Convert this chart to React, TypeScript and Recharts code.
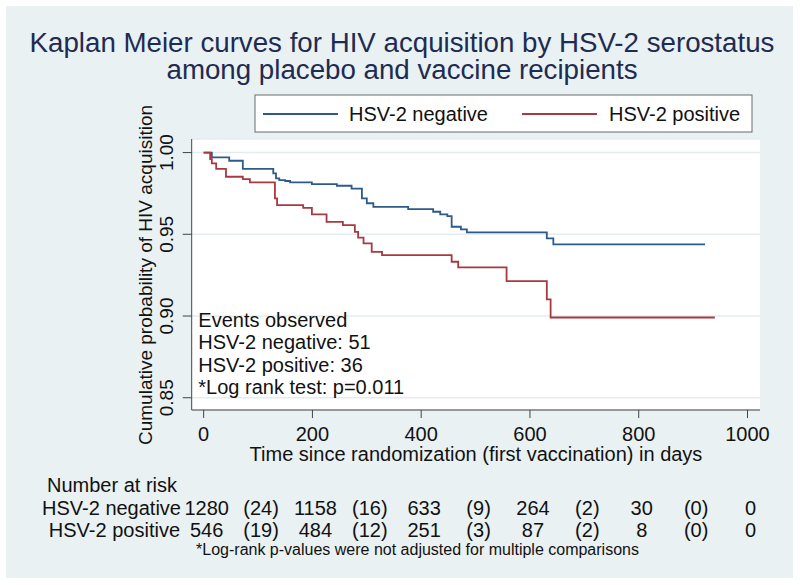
import React from 'react';
import { LineChart, Line, XAxis, YAxis, CartesianGrid, Customized } from 'recharts';

const FONT = '"Liberation Sans", Arial, Helvetica, sans-serif';

const titleLines = ['Kaplan Meier curves for HIV acquisition by HSV-2 serostatus', 'among placebo and vaccine recipients'];
const seriesNames = ['HSV-2 negative', 'HSV-2 positive'];
const seriesColors = ['#2C5B8A', '#A8393F'];
const yTitle = 'Cumulative probability of HIV acquisition';
const xTitle = 'Time since randomization (first vaccination) in days';

// Kaplan-Meier steps, HSV-2 negative
const negDays = [0, 15, 47, 72, 128, 133, 139, 150, 159, 199, 245, 272, 291, 300, 312, 376, 422, 435, 448, 456, 473, 484, 631, 643, 922];
const negSurv = [1.0, 0.997, 0.995, 0.990, 0.9873, 0.9842, 0.9832, 0.9826, 0.9818, 0.9807, 0.9797, 0.978, 0.972, 0.969, 0.9668, 0.9654, 0.9638, 0.9622, 0.9611, 0.9546, 0.953, 0.9512, 0.9475, 0.9438, 0.9438];
// Kaplan-Meier steps, HSV-2 positive
const posDays = [0, 12, 15, 23, 41, 72, 85, 131, 135, 183, 199, 226, 256, 278, 284, 294, 309, 328, 456, 468, 557, 631, 638, 940];
const posSurv = [1.0, 0.996, 0.9934, 0.990, 0.9852, 0.9838, 0.9818, 0.972, 0.9679, 0.9662, 0.9622, 0.9576, 0.9556, 0.9515, 0.948, 0.9444, 0.9393, 0.9373, 0.9332, 0.9297, 0.9214, 0.9102, 0.8991, 0.8991];

const xTickStep = 200;
const yTicks = [0.85, 0.9, 0.95, 1.0];
const riskTicks = [0, 100, 200, 300, 400, 500, 600, 700, 800, 900, 1000];
const negAtRisk = [1280, 1158, 633, 264, 30, 0];
const negEvents = [24, 16, 9, 2, 0];
const posAtRisk = [546, 484, 251, 87, 8, 0];
const posEvents = [19, 12, 3, 2, 0];

const eventsLines = ['Events observed', 'HSV-2 negative: 51', 'HSV-2 positive: 36', '*Log rank test: p=0.011'];
const riskHeader = 'Number at risk';
const footnote = '*Log-rank p-values were not adjusted for multiple comparisons';

const negData = negDays.map((t, i) => ({ t, s: negSurv[i] }));
const posData = posDays.map((t, i) => ({ t, s: posSurv[i] }));

const riskLabel = (atRisk: number[], events: number[], i: number) =>
  i % 2 === 0 ? String(atRisk[i / 2]) : `(${events[(i - 1) / 2]})`;

// One tick per 100 days: draws the axis tick + label at multiples of 200,
// and the number-at-risk table cells below, all placed by the axis scale.
const XTick = (props: any) => {
  const { x, y, payload } = props;
  const v = payload.value;
  const i = Math.round(v / 100);
  const major = v % xTickStep === 0;
  return (
    <g fontFamily={FONT} fontSize={20} fill="#111">
      {major && <line x1={x} y1={y} x2={x} y2={y + 8} stroke="#444" strokeWidth={1} />}
      {major && (
        <text x={x} y={y + 30.5} textAnchor="middle">
          {v}
        </text>
      )}
      <text x={x + 3} y={y + 105} textAnchor="middle">
        {riskLabel(negAtRisk, negEvents, i)}
      </text>
      <text x={x + 3} y={y + 127} textAnchor="middle">
        {riskLabel(posAtRisk, posEvents, i)}
      </text>
    </g>
  );
};

const YTick = (props: any) => {
  const { x, y, payload } = props;
  return (
    <text x={x} y={y} transform={`rotate(-90, ${x}, ${y})`} textAnchor="middle" fontSize={19} fontFamily={FONT} fill="#111">
      {Number(payload.value).toFixed(2)}
    </text>
  );
};

const Decorations = () => (
  <g fontFamily={FONT}>
    {titleLines.map((t, i) => (
      <text key={t} x={402} y={52 + i * 27} textAnchor="middle" fontSize={27.7} fill="#1E2B52">
        {t}
      </text>
    ))}
    {/* legend */}
    <rect x={255} y={95} width={497} height={37} fill="#fff" stroke="#6a6a6a" strokeWidth={1} />
    <line x1={263} y1={114} x2={338} y2={114} stroke={seriesColors[0]} strokeWidth={1.8} />
    <text x={349} y={121} fontSize={20} fill="#111">{seriesNames[0]}</text>
    <line x1={522} y1={114} x2={597} y2={114} stroke={seriesColors[1]} strokeWidth={1.8} />
    <text x={609} y={121} fontSize={20} fill="#111">{seriesNames[1]}</text>
    {/* y title */}
    <text x={151.7} y={275} transform="rotate(-90, 151.7, 275)" textAnchor="middle" fontSize={19} fill="#111">
      {yTitle}
    </text>
    {/* x title */}
    <text x={476} y={460.5} textAnchor="middle" fontSize={20} fill="#111">{xTitle}</text>
    {/* events */}
    {eventsLines.map((t, i) => (
      <text key={t} x={198.3} y={326.7 + i * 22.5} fontSize={20} fill="#111">{t}</text>
    ))}
    {/* risk table labels */}
    <text x={47} y={492} fontSize={20} fill="#111">{riskHeader}</text>
    <text x={181} y={515} textAnchor="end" fontSize={20} fill="#111">{seriesNames[0]}</text>
    <text x={180} y={537} textAnchor="end" fontSize={20} fill="#111">{seriesNames[1]}</text>
    <text x={417.5} y={555} textAnchor="middle" fontSize={16} fill="#111">{footnote}</text>
  </g>
);

export default function App() {
  return (
    <div style={{ position: 'absolute', left: 0, top: 0, width: 800, height: 585, background: '#fff' }}>
      <div style={{ position: 'absolute', left: 6, top: 6, width: 787, height: 572, background: '#E9F1F3' }} />
      <div style={{ position: 'absolute', left: 0, top: 0 }}>
        <LineChart width={800} height={585} margin={{ top: 139, right: 40, bottom: 55, left: 131.7 }}>
          <CartesianGrid horizontal vertical={false} fill="#ffffff" stroke="#E3ECEF" strokeWidth={1.5} />
          <XAxis
            dataKey="t"
            type="number"
            domain={[-22, 1023]}
            allowDataOverflow
            ticks={riskTicks}
            interval={0}
            height={120}
            tickSize={0}
            tickMargin={0}
            stroke="#444"
            tickLine={false}
            tick={<XTick />}
          />
          <YAxis
            type="number"
            domain={[0.8425, 1.0083]}
            allowDataOverflow
            ticks={yTicks}
            interval={0}
            width={60}
            tickSize={9}
            tickMargin={10}
            stroke="#444"
            tickLine={{ stroke: '#444' }}
            tick={<YTick />}
          />
          <Line
            data={negData}
            dataKey="s"
            type="stepAfter"
            stroke={seriesColors[0]}
            strokeWidth={1.8}
            dot={false}
            isAnimationActive={false}
            name={seriesNames[0]}
          />
          <Line
            data={posData}
            dataKey="s"
            type="stepAfter"
            stroke={seriesColors[1]}
            strokeWidth={1.8}
            dot={false}
            isAnimationActive={false}
            name={seriesNames[1]}
          />
          <Customized component={<Decorations />} />
        </LineChart>
      </div>
    </div>
  );
}
